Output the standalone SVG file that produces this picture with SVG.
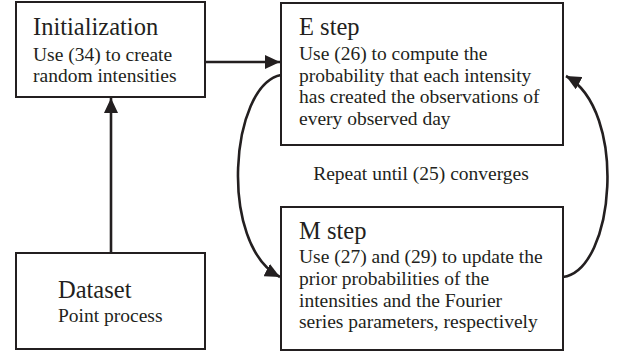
<svg xmlns="http://www.w3.org/2000/svg" width="619" height="356" viewBox="0 0 619 356">
<style>
text{font-family:"Liberation Serif","Times New Roman",Tinos,"DejaVu Serif",serif;fill:#231f20}
.box{fill:#fff;stroke:#231f20;stroke-width:2}
.h{font-size:24.5px}
.t{font-size:19.5px}
.c{fill:none;stroke:#231f20;stroke-width:2.6}
</style>
<defs>
<marker id="ah" markerUnits="userSpaceOnUse" markerWidth="16" markerHeight="14" refX="15" refY="7" orient="auto">
<path d="M0,0 L15,7 L0,14 z" fill="#231f20"/>
</marker>
</defs>
<rect width="619" height="356" fill="#fff"/>
<g id="connectors">
<line class="c" x1="205" y1="62" x2="280" y2="62" marker-end="url(#ah)"/>
<line class="c" x1="111" y1="253" x2="111" y2="98" marker-end="url(#ah)"/>
<path class="c" d="M281,75 C230,85 218,245 280,277" marker-end="url(#ah)"/>
<path class="c" d="M563,277 C615,270 628,110 566,76" marker-end="url(#ah)"/>
<text class="t" x="421" y="180" text-anchor="middle">Repeat until (25) converges</text>
</g>
<g id="init">
<rect class="box" x="16" y="2" width="189" height="95"/>
<text class="h" x="33" y="35">Initialization</text>
<text class="t" x="33" y="61">Use (34) to create</text>
<text class="t" x="33" y="82">random intensities</text>
</g>
<g id="estep">
<rect class="box" x="281" y="3" width="282" height="142"/>
<text class="h" x="299" y="35">E step</text>
<text class="t" x="299" y="60">Use (26) to compute the</text>
<text class="t" x="299" y="82">probability that each intensity</text>
<text class="t" x="299" y="103">has created the observations of</text>
<text class="t" x="299" y="125">every observed day</text>
</g>
<g id="mstep">
<rect class="box" x="281" y="207" width="282" height="143"/>
<text class="h" x="299" y="239">M step</text>
<text class="t" x="299" y="263">Use (27) and (29) to update the</text>
<text class="t" x="299" y="285">prior probabilities of the</text>
<text class="t" x="299" y="307">intensities and the Fourier</text>
<text class="t" x="299" y="328">series parameters, respectively</text>
</g>
<g id="dataset">
<rect class="box" x="16" y="253" width="189" height="96"/>
<text class="h" x="58" y="298">Dataset</text>
<text class="t" x="58" y="322">Point process</text>
</g>
</svg>
